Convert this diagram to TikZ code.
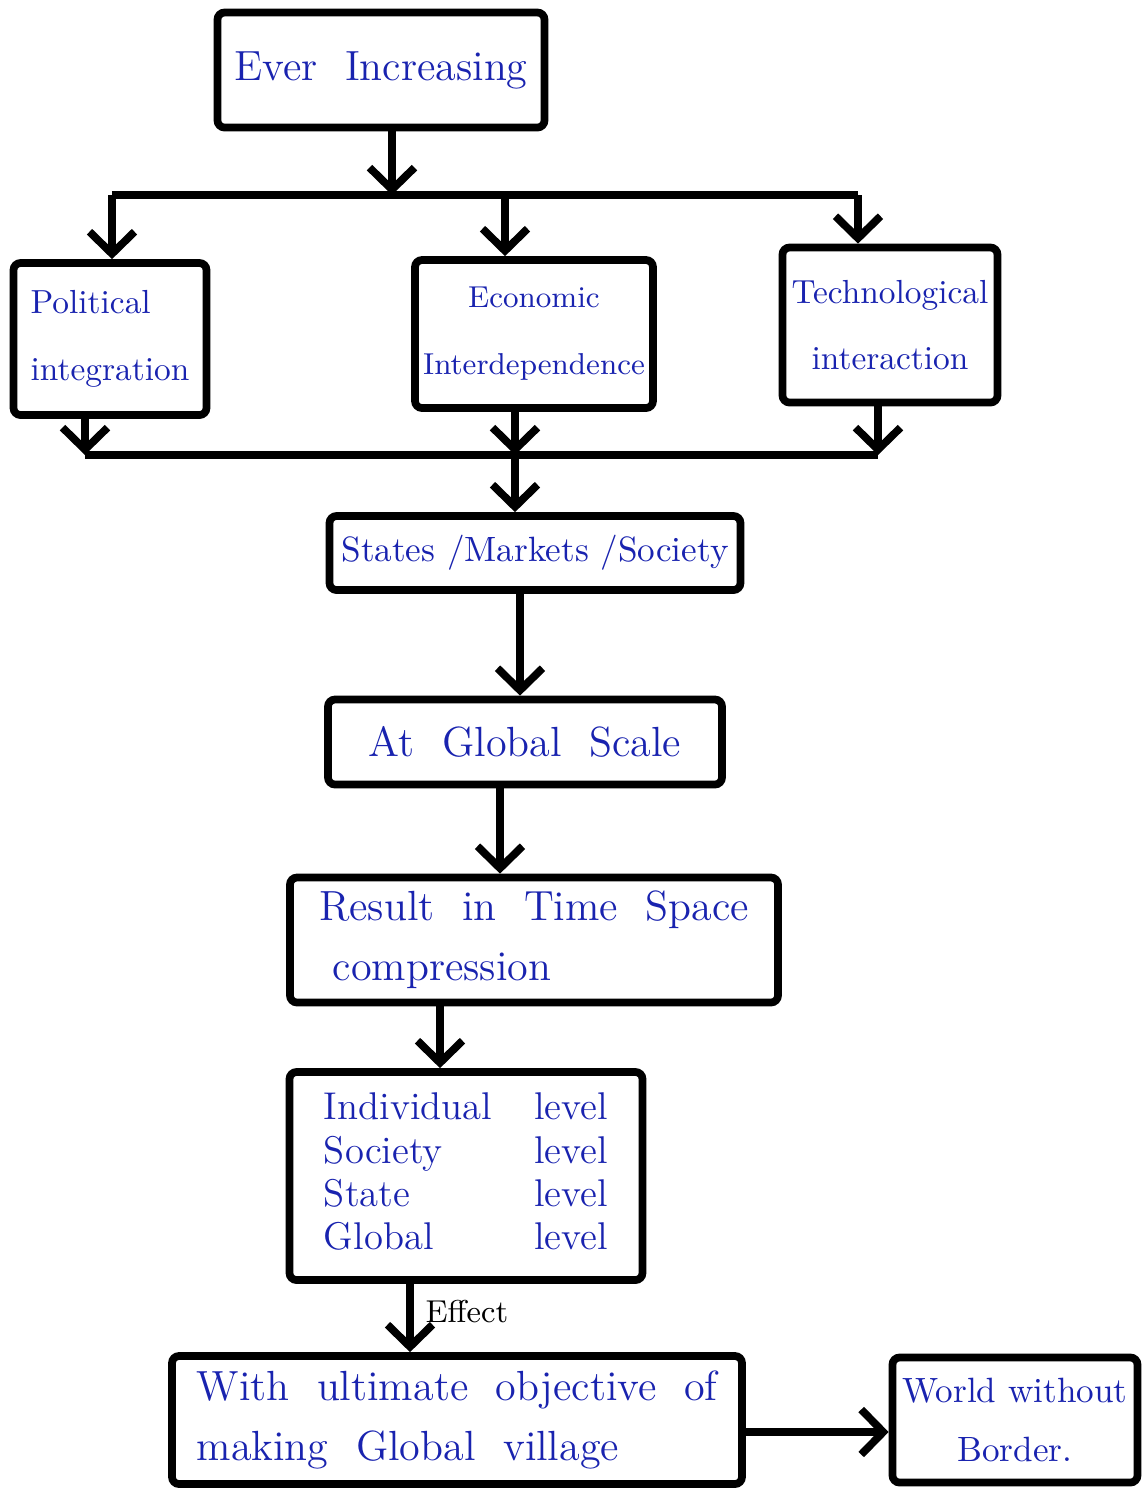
\documentclass[tikz,border=0pt]{standalone}
\usepackage{amsmath}
\usepackage{xcolor}
\usepackage{tikz}
\usetikzlibrary{
	arrows.meta,shapes
}
\definecolor{inkblue}{RGB}{25,35,175}

\begin{document}
\begin{tikzpicture}[
		box/.style={draw,line width=2.2pt,rounded corners=2pt,text=inkblue,inner sep=2pt,font=\fontsize{12}{17}\selectfont},
		sidebox/.style={box,align=left,font=\fontsize{9.5}{19}\selectfont}
		]
		\useasboundingbox (0,0) rectangle (11.45,-14.88);
		\node[box,minimum width=3.27cm,minimum height=1.15cm] (ever) at (3.81,-0.70) {Ever\ \ Increasing};
		\node[sidebox,minimum width=1.93cm,minimum height=1.52cm] (pol) at (1.10,-3.39) {Political\\integration};
		\node[sidebox,align=center,font=\fontsize{8.6}{19}\selectfont,minimum width=2.38cm,minimum height=1.48cm] (eco) at (5.34,-3.34) {Economic\\Interdependence};
		\node[sidebox,align=center,minimum width=2.15cm,minimum height=1.55cm] (tech) at (8.90,-3.25) {Technological\\interaction};
		\node[box,font=\fontsize{10}{14}\selectfont,minimum width=4.11cm,minimum height=0.74cm] (smx) at (5.35,-5.53) {States /Markets /Society};
		\node[box,minimum width=3.94cm,minimum height=0.85cm] (scale) at (5.25,-7.42) {At\ \ Global\ \ Scale};
		\node[box,align=left,minimum width=4.88cm,minimum height=1.25cm] (result) at (5.34,-9.40) {Result\ \ in\ \ Time\ \ Space\\ \ compression};
		\node[box,font=\fontsize{11}{13}\selectfont,minimum width=3.53cm,minimum height=2.08cm] (levels) at (4.66,-11.76) {%
			\renewcommand{\arraystretch}{0.95}\begin{tabular}{@{}ll@{}}
			Individual & level\\
			Society & level\\
			State & level\\
			Global & level
			\end{tabular}};
		\node[box,align=left,minimum width=5.70cm,minimum height=1.28cm] (village) at (4.57,-14.20) {With\ \ ultimate\ \ objective\ \ of\\ making\ \ Global\ \ village};
		\node[box,align=center,font=\fontsize{10}{17}\selectfont,minimum width=2.45cm,minimum height=1.25cm] (border) at (10.15,-14.20) {World\ without\\Border.};
		%
		\coordinate (split) at (3.92,-1.95);
		\coordinate (sL) at (1.12,-1.95);
		\coordinate (sM) at (5.05,-1.95);
		\coordinate (sR) at (8.58,-1.95);
		\coordinate (jL) at (0.85,-4.55);
		\coordinate (jM) at (5.15,-4.55);
		\coordinate (jR) at (8.78,-4.55);
		%
		\path[->,line width=2.2pt,>={Straight Barb[length=2.2mm,width=4.5mm]}]
		% fan out
		(ever.south -| split) edge (split)
		(sL) edge[-] (sR)
		(sL) edge (sL |- pol.north)
		(sM) edge (sM |- eco.north)
		(sR) edge (sR |- tech.north)
		% fan in
		(pol.south -| jL) edge (jL)
		(eco.south -| jM) edge (jM)
		(tech.south -| jR) edge (jR)
		(jL) edge[-] (jR)
		(jM) edge (jM |- smx.north)
		% down the chain
		(smx.south -| 5.20,0) edge (scale.north -| 5.20,0)
		(scale.south -| 5.00,0) edge (result.north -| 5.00,0)
		(result.south -| 4.40,0) edge (levels.north -| 4.40,0)
		(levels.south -| 4.10,0) edge node[pos=0.4,right,text=black,font=\small]{Effect} (village.north -| 4.10,0)
		([yshift=-1.2mm]village.east) edge ([yshift=-1.2mm]border.west);
\end{tikzpicture}
\end{document}
